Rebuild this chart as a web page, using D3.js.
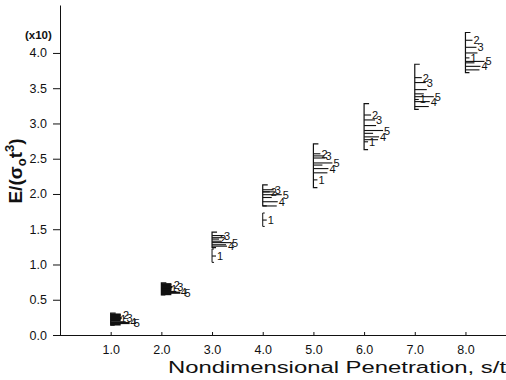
<!DOCTYPE html>
<html>
<head>
<meta charset="utf-8">
<script src="https://cdn.jsdelivr.net/npm/d3@7"></script>
<style>
  body { margin: 0; background: #fff; }
  text { font-family: "Liberation Sans", Arial, sans-serif; fill: #111; }
</style>
</head>
<body>
<div id="chart"></div>
<script>
// penetration positions (s/t) and tick values
const positions = [1, 2, 3, 4, 5, 6, 7, 8];
const xTicks = [1, 2, 3, 4, 5, 6, 7, 8];
const yTicks = [0, 0.5, 1, 1.5, 2, 2.5, 3, 3.5, 4];

// E/(sigma0 t^3) in units of x10, one value per curve 1..5
const curve1 = [0.23, 0.65, 1.12, 1.63, 2.20, 2.74, 3.34, 3.93];
const curve2 = [0.28, 0.71, 1.36, 2.03, 2.57, 3.12, 3.65, 4.18];
const curve3 = [0.24, 0.68, 1.41, 2.06, 2.54, 3.05, 3.58, 4.08];
const curve4 = [0.18, 0.61, 1.26, 1.89, 2.36, 2.81, 3.31, 3.81];
const curve5 = [0.17, 0.60, 1.31, 1.99, 2.44, 2.90, 3.38, 3.88];

// spread of each group
const rangeTop = [0.31, 0.74, 1.46, 2.13, 2.71, 3.28, 3.84, 4.29];
const rangeBottom = [0.14, 0.57, 1.24, 1.83, 2.09, 2.63, 3.20, 3.72];

// unlabeled lines in each group
const extra = [
  [0.29, 0.26, 0.21, 0.15],
  [0.72, 0.66, 0.63, 0.58],
  [1.38, 1.33, 1.28],
  [2.03, 1.95, 1.83],
  [2.51, 2.41, 2.30],
  [2.97, 2.86, 2.77],
  [3.48, 3.42, 3.24],
  [4.00, 3.86, 3.76]
];

const curves = [curve1, curve2, curve3, curve4, curve5];
const curveLen = [4, 7, 11, 15, 19];   // px length of each curve's line
const extraLen = [12, 9, 14, 10];

const W = 506, H = 380;
const svg = d3.select("#chart").append("svg")
  .attr("width", W).attr("height", H);

const x = d3.scaleLinear().domain([0, 8.8]).range([60, 506]);
const y = d3.scaleLinear().domain([0, 4.68]).range([335, 5]);

// y axis
svg.append("g")
  .attr("transform", "translate(60,0)")
  .call(d3.axisLeft(y).tickValues(yTicks).tickFormat(d3.format(".1f")).tickSize(7).tickSizeOuter(0))
  .call(g => g.selectAll("text").attr("font-size", 12.5).attr("dx", -3).attr("font-family", "Liberation Sans, Arial"))
  .call(g => g.selectAll("line, path").attr("stroke", "#111"));

// x axis
const xa = svg.append("g")
  .attr("transform", "translate(0,335)")
  .call(d3.axisBottom(x).tickValues(xTicks).tickFormat(d3.format(".1f")).tickSize(-3).tickSizeOuter(0))
  .call(g => g.selectAll("text").attr("font-size", 12.5).attr("dy", 16).attr("font-family", "Liberation Sans, Arial"))
  .call(g => g.selectAll("line, path").attr("stroke", "#111"));
xa.select("path.domain").attr("d", "M58,0.5H506");

// groups
const groups = svg.append("g").selectAll("g")
  .data(positions)
  .join("g");

groups.each(function (p, i) {
  const g = d3.select(this);
  const x0 = x(p);
  // vertical spread line with end ticks
  g.append("path")
    .attr("d", `M${x0 + 5},${y(rangeTop[i])}H${x0}V${y(rangeBottom[i])}H${x0 + 4}`)
    .attr("fill", "none").attr("stroke", "#111").attr("stroke-width", 1.2);
  // curve 1 sitting below the spread gets its own bracket
  if (curve1[i] < rangeBottom[i]) {
    g.append("path")
      .attr("d", `M${x0 + 2},${y(curve1[i] + 0.1)}H${x0}V${y(curve1[i] - 0.09)}H${x0 + 2}`)
      .attr("fill", "none").attr("stroke", "#111").attr("stroke-width", 1);
  }
  const small = i < 2;
  const heavy = small ? 2.2 : 1.1;
  extra[i].forEach((v, k) => {
    g.append("line")
      .attr("x1", x0).attr("x2", x0 + (small ? 10 : extraLen[k]))
      .attr("y1", y(v)).attr("y2", y(v))
      .attr("stroke", "#111").attr("stroke-width", heavy);
  });
  curves.forEach((c, k) => {
    const len = small ? Math.max(curveLen[k], 10) : curveLen[k];
    g.append("line")
      .attr("x1", x0).attr("x2", x0 + len)
      .attr("y1", y(c[i])).attr("y2", y(c[i]))
      .attr("stroke", "#111").attr("stroke-width", heavy);
    g.append("text")
      .attr("x", x0 + (small ? 6 + curveLen[k] * 0.9 : curveLen[k] + 1))
      .attr("y", y(c[i]) + 4)
      .attr("font-size", 11)
      .text(k + 1);
  });
});

// axis titles
svg.append("text")
  .attr("x", 25).attr("y", 39)
  .attr("font-size", 11.5).attr("font-weight", "bold")
  .text("(x10)");

const yl = svg.append("text")
  .attr("transform", "translate(22,171) rotate(-90)")
  .attr("text-anchor", "middle")
  .attr("font-size", 19).attr("font-weight", "bold");
yl.append("tspan").text("E/(σ");
yl.append("tspan").attr("font-size", 13).attr("dy", 4).text("o");
yl.append("tspan").attr("dy", -4).text("t");
yl.append("tspan").attr("font-size", 13).attr("dy", -8).text("3");
yl.append("tspan").attr("dy", 8).text(")");

svg.append("text")
  .attr("x", 168).attr("y", 373)
  .attr("font-size", 16)
  .attr("textLength", 338).attr("lengthAdjust", "spacingAndGlyphs")
  .text("Nondimensional Penetration, s/t");
</script>
</body>
</html>
